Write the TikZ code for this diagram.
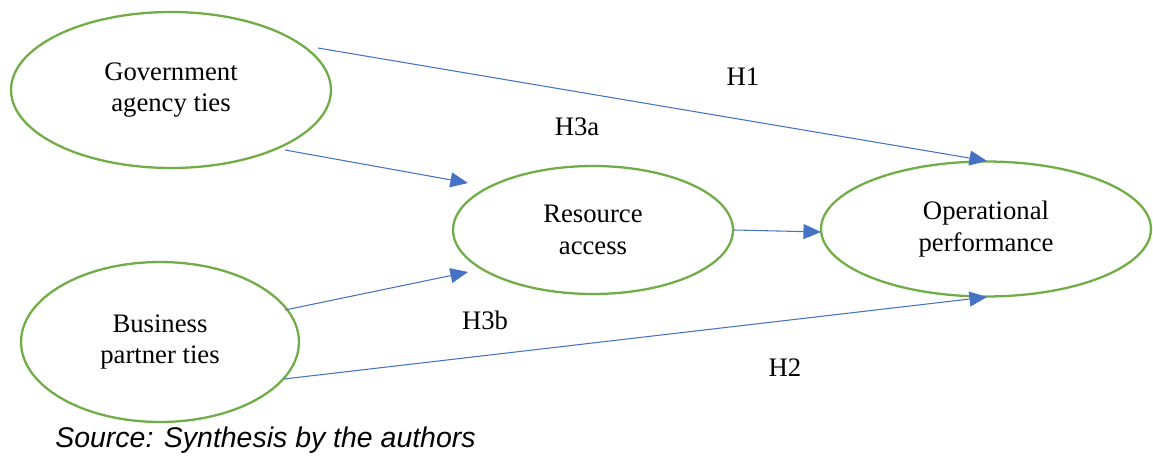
\documentclass[tikz,border=0pt]{standalone}
\usepackage{fontspec}
\setmainfont{Liberation Serif}
\newfontfamily\srcfont{Liberation Sans}
\usetikzlibrary{shapes.geometric,arrows.meta}
\definecolor{ellgreen}{HTML}{70AD47}
\definecolor{arrblue}{HTML}{4472C4}
\tikzset{
  construct/.style={ellipse, draw=ellgreen, line width=1.3pt, inner sep=0pt,
    align=center, font=\fontsize{15.2}{18}\selectfont},
  arr/.style={draw=arrblue, line width=0.6pt,
    -{Triangle[length=10pt,width=8.5pt]}, arrblue},
  hlabel/.style={font=\fontsize{15.2}{18}\selectfont, inner sep=0pt}
}
\begin{document}
\begin{tikzpicture}[x=0.02cm,y=-0.02cm]
\useasboundingbox (0,0) rectangle (1153,462);
\node[construct, minimum width=6.4cm, minimum height=3.12cm] (gov) at (171,90) {Government\\agency ties};
\node[construct, minimum width=5.56cm, minimum height=3.2cm] (bus) at (160,342) {Business\\partner ties};
\node[construct, minimum width=5.6cm, minimum height=2.56cm] (res) at (593,230) {Resource\\access};
\node[construct, minimum width=6.6cm, minimum height=2.7cm] (op) at (986,229) {Operational\\performance};
\draw[arr] ([shift={(147,-42)}]gov.center) -- ([shift={(1,-68)}]op.center);
\draw[arr] ([shift={(114,60)}]gov.center) -- ([shift={(-125,-47)}]res.center);
\draw[arr] ([shift={(125,-32)}]bus.center) -- ([shift={(-125,42)}]res.center);
\draw[arr] (res.east) -- ([shift={(-165,3)}]op.center);
\draw[arr] ([shift={(124,37)}]bus.center) -- ([shift={(1,68)}]op.center);
\node[hlabel] (h1) at (743,77) {H1};
\node[hlabel] (h3a) at (577,127) {H3a};
\node[hlabel] (h3b) at (485,320) {H3b};
\node[hlabel] (h2) at (785,368) {H2};
\node[font=\srcfont\itshape\fontsize{16.2}{19}\selectfont, anchor=west, inner sep=0pt] (src) at (55,440) {Source: Synthesis by the authors};
\end{tikzpicture}
\end{document}
